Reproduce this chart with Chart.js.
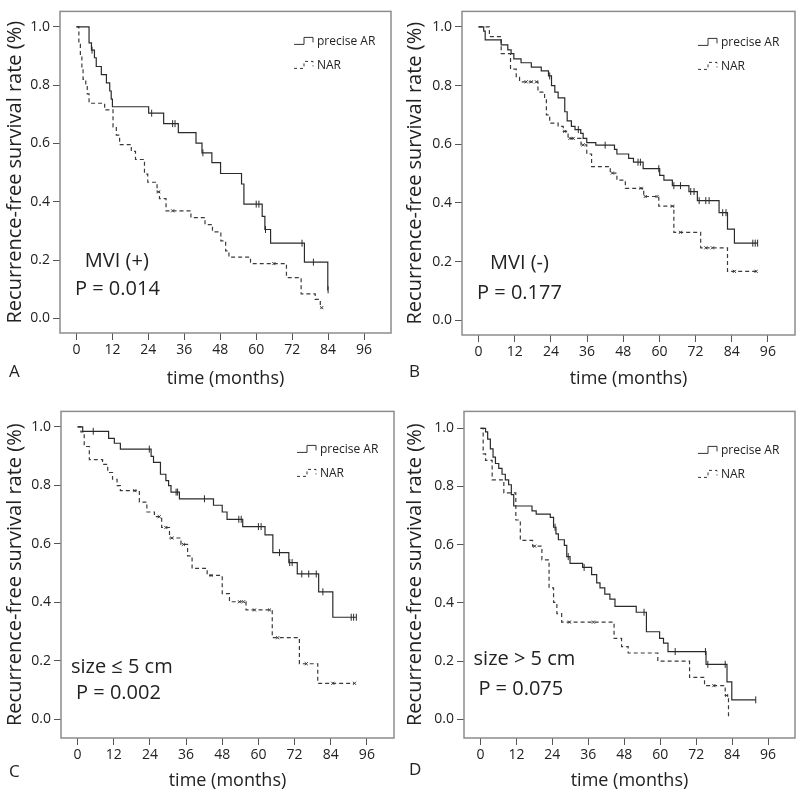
<!DOCTYPE html>
<html>
<head>
<meta charset="utf-8">
<script src="https://cdn.jsdelivr.net/npm/chart.js@4.4.0/dist/chart.umd.min.js"></script>
<style>
  body { margin: 0; background: #fff; }
  #wrap { position: relative; width: 800px; height: 793px; overflow: hidden; }
  canvas { position: absolute; }
</style>
</head>
<body>
<div id="wrap">
  <canvas id="chartA" width="400" height="400" style="left:0;top:0"></canvas>
  <canvas id="chartB" width="400" height="400" style="left:400px;top:0"></canvas>
  <canvas id="chartC" width="400" height="400" style="left:0;top:400px"></canvas>
  <canvas id="chartD" width="400" height="400" style="left:400px;top:400px"></canvas>
</div>
<script>
const monthTicks = [0, 12, 24, 36, 48, 60, 72, 84, 96];
const rateTicks = [0, 0.2, 0.4, 0.6, 0.8, 1.0];
const seriesNames = ["precise AR", "NAR"];

// A: MVI (+)
const aPreciseTime = [4.2, 5.0, 6.0, 6.6, 8.3, 10.0, 11.1, 11.6, 12.0, 24.1, 29.1, 34.0, 39.9, 41.9, 45.2, 48.1, 55.1, 55.9, 62.0, 62.9, 64.8, 76.1, 83.9];
const aPreciseRate = [0.945, 0.920, 0.894, 0.864, 0.836, 0.808, 0.780, 0.752, 0.726, 0.704, 0.668, 0.637, 0.601, 0.568, 0.534, 0.497, 0.461, 0.392, 0.350, 0.305, 0.258, 0.193, 0.098];
const aPreciseCensor = [5.2, 25.1, 32.1, 32.9, 42.2, 60.0, 60.9, 63.1, 75.3, 79.1, 84.0];
const aNarTime = [0.8, 1.3, 1.8, 2.2, 3.1, 3.6, 4.2, 9.4, 12.2, 13.3, 14.4, 18.3, 19.7, 22.7, 23.8, 26.9, 27.7, 29.9, 38.2, 42.9, 45.4, 48.2, 49.8, 50.9, 58.1, 70.1, 75.0, 79.7, 81.4];
const aNarRate = [0.94, 0.90, 0.86, 0.82, 0.797, 0.77, 0.738, 0.715, 0.657, 0.629, 0.596, 0.573, 0.545, 0.495, 0.467, 0.434, 0.411, 0.369, 0.346, 0.322, 0.297, 0.266, 0.232, 0.210, 0.188, 0.140, 0.084, 0.065, 0.037];
const aNarCensor = [27.4, 32.1, 65.9, 81.9];

// B: MVI (-)
const bPreciseTime = [1.7, 2.2, 7.5, 9.7, 10.8, 11.7, 14.1, 17.5, 20.8, 23.2, 24.2, 25.3, 26.4, 28.6, 29.4, 30.8, 32.0, 33.9, 34.7, 35.9, 38.9, 45.1, 45.9, 49.8, 51.4, 54.6, 60.1, 61.5, 64.3, 69.8, 72.6, 79.8, 82.6, 84.9];
const bPreciseRate = [0.986, 0.956, 0.939, 0.922, 0.909, 0.891, 0.878, 0.863, 0.850, 0.833, 0.800, 0.778, 0.758, 0.711, 0.680, 0.661, 0.650, 0.637, 0.620, 0.606, 0.597, 0.583, 0.567, 0.552, 0.539, 0.517, 0.494, 0.478, 0.459, 0.439, 0.408, 0.367, 0.311, 0.263];
const bPreciseCensor = [23.6, 33.1, 42.0, 52.9, 53.7, 59.8, 64.8, 67.0, 70.4, 71.5, 73.2, 75.4, 76.5, 81.0, 82.1, 91.0, 91.8, 92.6];
const bNarTime = [3.6, 7.5, 10.6, 12.5, 13.6, 19.7, 21.9, 22.5, 23.6, 26.4, 28.1, 29.7, 34.0, 35.9, 37.5, 43.7, 45.9, 48.7, 54.8, 59.8, 64.8, 73.7, 82.6];
const bNarRate = [0.967, 0.909, 0.856, 0.828, 0.813, 0.778, 0.756, 0.700, 0.672, 0.661, 0.644, 0.620, 0.598, 0.567, 0.524, 0.502, 0.478, 0.450, 0.422, 0.389, 0.300, 0.247, 0.167];
const bNarCensor = [15.8, 17.5, 19.2, 28.6, 30.3, 31.4, 34.7, 44.4, 53.9, 55.3, 59.2, 64.3, 67.0, 75.4, 77.6, 84.9, 92.1];

// C: size <= 5 cm
const cPreciseTime = [1.7, 10.3, 12.2, 14.2, 24.4, 25.2, 27.5, 29.3, 30.2, 31.0, 33.8, 45.1, 48.0, 49.6, 54.8, 62.2, 64.8, 70.1, 72.9, 80.0, 84.7];
const cPreciseRate = [0.985, 0.961, 0.944, 0.924, 0.899, 0.879, 0.838, 0.816, 0.799, 0.777, 0.754, 0.732, 0.709, 0.684, 0.659, 0.631, 0.570, 0.536, 0.497, 0.436, 0.349];
const cPreciseCensor = [5.2, 23.8, 32.7, 33.2, 42.1, 53.5, 54.3, 60.0, 60.9, 67.0, 70.4, 71.2, 74.4, 76.7, 79.2, 81.4, 90.8, 91.6, 92.5];
const cNarTime = [1.1, 2.2, 3.9, 8.3, 10.0, 11.6, 13.1, 14.2, 20.5, 23.0, 25.5, 27.9, 30.5, 34.3, 36.5, 38.0, 43.0, 48.0, 50.4, 55.9, 64.6, 73.6, 79.7];
const cNarRate = [0.983, 0.933, 0.888, 0.872, 0.844, 0.821, 0.799, 0.782, 0.743, 0.709, 0.693, 0.656, 0.620, 0.598, 0.559, 0.516, 0.492, 0.430, 0.402, 0.374, 0.279, 0.190, 0.123];
const cNarCensor = [19.0, 27.1, 29.3, 31.3, 35.1, 44.3, 53.7, 55.1, 58.7, 63.7, 66.4, 75.9, 84.7, 91.9];

// D: size > 5 cm
const dPreciseTime = [1.7, 2.4, 3.3, 4.2, 5.0, 6.1, 7.2, 8.3, 9.4, 10.3, 11.1, 17.2, 18.6, 23.3, 24.4, 25.2, 26.0, 28.0, 28.8, 29.9, 34.1, 37.1, 38.8, 39.9, 41.5, 43.2, 44.9, 52.0, 55.4, 59.8, 61.1, 62.6, 75.3, 82.3, 83.9];
const dPreciseRate = [0.988, 0.963, 0.929, 0.901, 0.879, 0.862, 0.842, 0.823, 0.806, 0.772, 0.733, 0.716, 0.705, 0.694, 0.660, 0.637, 0.617, 0.598, 0.559, 0.536, 0.522, 0.497, 0.469, 0.452, 0.430, 0.413, 0.388, 0.368, 0.301, 0.278, 0.262, 0.233, 0.189, 0.129, 0.067];
const dPreciseCensor = [24.9, 29.3, 34.6, 54.6, 65.0, 75.1, 75.9, 81.7, 91.9];
const dNarTime = [0.9, 1.7, 3.9, 7.8, 11.8, 13.3, 17.4, 20.5, 22.9, 24.4, 25.5, 27.1, 44.6, 47.1, 49.3, 59.2, 69.8, 74.8, 81.7, 82.8];
const dNarRate = [0.912, 0.890, 0.823, 0.778, 0.685, 0.615, 0.595, 0.548, 0.452, 0.402, 0.363, 0.334, 0.278, 0.250, 0.228, 0.200, 0.144, 0.116, 0.082, 0.0];
const dNarCensor = [18.1, 29.7, 37.7, 77.9, 82.2];

const FONT = "'Open Sans', 'Noto Sans', sans-serif";
const TEXT = "#222";

// survival value of a step curve at time t
function rateAt(times, rates, t) {
  let r = 1;
  for (let i = 0; i < times.length; i++)
    if (times[i] <= t) r = rates[i];
  return r;
}

function stepPoints(times, rates, censor) {
  let pts = [{ x: 0, y: 1 }];
  for (let i = 0; i < times.length; i++)
    pts.push({ x: times[i], y: rates[i] });
  const end = Math.max(times[times.length - 1], censor[censor.length - 1]);
  pts.push({ x: end, y: rateAt(times, rates, end) });
  return pts;
}

function censorPoints(times, rates, censor) {
  return censor.map(c => ({ x: c, y: rateAt(times, rates, c) }));
}

const kmPlugin = {
  id: "km",
  beforeDatasetsDraw(chart) {
    const { ctx, chartArea: a } = chart;
    ctx.save();
    ctx.strokeStyle = "#8c8c8c";
    ctx.lineWidth = 1.5;
    ctx.strokeRect(a.left, a.top, a.right - a.left, a.bottom - a.top);
    ctx.restore();
  },
  afterDraw(chart, args, opts) {
    const { ctx, chartArea: a, scales } = chart;
    ctx.save();
    ctx.fillStyle = TEXT;
    ctx.textBaseline = "middle";

    // legend
    ctx.font = "12px " + FONT;
    const tx = a.right - 74;
    for (let i = 0; i < seriesNames.length; i++) {
      const y = a.top + opts.legendTop + i * 24;
      ctx.fillText(seriesNames[i], tx, y);
      ctx.strokeStyle = "#333";
      ctx.lineWidth = 1;
      ctx.setLineDash(i == 0 ? [] : [3, 3]);
      ctx.beginPath();
      ctx.moveTo(tx - 23, y + 3);
      ctx.lineTo(tx - 13, y + 3);
      ctx.lineTo(tx - 13, y - 4);
      ctx.lineTo(tx - 4, y - 4);
      ctx.lineTo(tx - 4, y + 1);
      ctx.stroke();
    }
    ctx.setLineDash([]);

    // notes
    ctx.font = "20px " + FONT;
    for (const n of opts.notes)
      ctx.fillText(n.text, scales.x.getPixelForValue(n.x), scales.y.getPixelForValue(n.y));

    // panel letter
    ctx.font = "17px " + FONT;
    ctx.fillText(opts.letter, 9, opts.letterY);
    ctx.restore();
  }
};

function makePanel(id, p) {
  const datasets = [
    {
      data: stepPoints(p.preciseTime, p.preciseRate, p.preciseCensor),
      showLine: true, stepped: "before", borderColor: "#2a2a2a", borderWidth: 1.2,
      pointRadius: 0, fill: false
    },
    {
      data: stepPoints(p.narTime, p.narRate, p.narCensor),
      showLine: true, stepped: "before", borderColor: "#3a3a3a", borderWidth: 1.2,
      borderDash: [4, 3], pointRadius: 0, fill: false
    },
    {
      data: censorPoints(p.preciseTime, p.preciseRate, p.preciseCensor),
      showLine: false, pointStyle: "line", rotation: 90, pointRadius: 3.5,
      borderColor: "#2a2a2a", borderWidth: 1
    },
    {
      data: censorPoints(p.narTime, p.narRate, p.narCensor),
      showLine: false, pointStyle: "crossRot", pointRadius: 2.2,
      borderColor: "#3a3a3a", borderWidth: 1
    }
  ];

  return new Chart(document.getElementById(id), {
    type: "scatter",
    data: { datasets: datasets },
    options: {
      responsive: false,
      animation: false,
      devicePixelRatio: 1,
      layout: { padding: { left: 0, top: p.box.top, right: 400 - p.box.right, bottom: 0 } },
      plugins: {
        legend: { display: false },
        tooltip: { enabled: false },
        km: { notes: p.notes, letter: p.letter, letterY: p.letterY, legendTop: p.legendTop }
      },
      scales: {
        x: {
          type: "linear", min: -5.5, max: 105,
          afterBuildTicks: s => { s.ticks = monthTicks.map(v => ({ value: v })); },
          afterFit: s => { s.height = 400 - p.box.bottom; },
          grid: { drawOnChartArea: false, drawTicks: true, tickLength: 7, color: "#555" },
          border: { display: false },
          ticks: { color: TEXT, font: { family: FONT, size: 14 }, padding: 2, maxRotation: 0, autoSkip: false },
          title: { display: true, text: "time (months)", color: TEXT, font: { family: FONT, size: 18 }, padding: { top: 0, bottom: p.titleGap } }
        },
        y: {
          type: "linear", min: p.yMin, max: p.yMax,
          afterBuildTicks: s => { s.ticks = rateTicks.map(v => ({ value: v })); },
          afterFit: s => { s.width = p.box.left; },
          grid: { drawOnChartArea: false, drawTicks: true, tickLength: 7, color: "#555" },
          border: { display: false },
          ticks: { color: TEXT, font: { family: FONT, size: 14 }, padding: 3, callback: v => v.toFixed(1) },
          title: { display: true, text: "Recurrence-free survival rate (%)", color: TEXT, font: { family: FONT, size: 20 }, padding: { top: 3, bottom: 0 } }
        }
      }
    },
    plugins: [kmPlugin]
  });
}

makePanel("chartA", {
  preciseTime: aPreciseTime, preciseRate: aPreciseRate, preciseCensor: aPreciseCensor,
  narTime: aNarTime, narRate: aNarRate, narCensor: aNarCensor,
  box: { left: 60, top: 5, right: 391, bottom: 333 }, yMin: -0.05, yMax: 1.053, titleGap: 10,
  legendTop: 30, letter: "A", letterY: 372,
  notes: [{ text: "MVI (+)", x: 2.8, y: 0.195 }, { text: "P = 0.014", x: -0.5, y: 0.10 }]
});

makePanel("chartB", {
  preciseTime: bPreciseTime, preciseRate: bPreciseRate, preciseCensor: bPreciseCensor,
  narTime: bNarTime, narRate: bNarRate, narCensor: bNarCensor,
  box: { left: 62, top: 4, right: 395, bottom: 335 }, yMin: -0.05, yMax: 1.053, titleGap: 10,
  legendTop: 31, letter: "B", letterY: 372,
  notes: [{ text: "MVI (-)", x: 3.8, y: 0.193 }, { text: "P = 0.177", x: -0.5, y: 0.093 }]
});

makePanel("chartC", {
  preciseTime: cPreciseTime, preciseRate: cPreciseRate, preciseCensor: cPreciseCensor,
  narTime: cNarTime, narRate: cNarRate, narCensor: cNarCensor,
  box: { left: 61, top: 6, right: 394, bottom: 338 }, yMin: -0.064, yMax: 1.053, titleGap: 8,
  legendTop: 38, letter: "C", letterY: 372,
  notes: [{ text: "size \u2264 5 cm", x: -2.2, y: 0.178 }, { text: "P = 0.002", x: -0.5, y: 0.09 }]
});

makePanel("chartD", {
  preciseTime: dPreciseTime, preciseRate: dPreciseRate, preciseCensor: dPreciseCensor,
  narTime: dNarTime, narRate: dNarRate, narCensor: dNarCensor,
  box: { left: 64, top: 5, right: 396, bottom: 338 }, yMin: -0.064, yMax: 1.058, titleGap: 8,
  legendTop: 39, letter: "D", letterY: 370,
  notes: [{ text: "size > 5 cm", x: -2.3, y: 0.205 }, { text: "P = 0.075", x: -0.7, y: 0.104 }]
});
</script>
</body>
</html>
